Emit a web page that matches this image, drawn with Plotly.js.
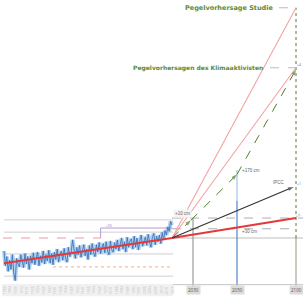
<!DOCTYPE html>
<html><head><meta charset="utf-8">
<script src="https://cdn.plot.ly/plotly-3.0.1.min.js"></script>
<style>html,body{margin:0;padding:0;background:#fff}#chart{width:303px;height:298px}</style>
</head><body><div id="chart"></div>
<script>
// ---------- data (sea level, cm relative to 2020) ----------
const histStart = 1900;
const histLevel = [
 -35,-75,-50,-90,-60,-85,-45,-95,-115,-55,-70,
 -78,-45,-66,-80,-42,-70,-50,-85,-48,-68,
 -40,-72,-55,-38,-75,-48,-66,-35,-70,-45,
 -62,-33,-68,-42,-72,-38,-58,-30,-65,-44,
 -35,-60,-28,-55,-65,-25,-50,-38,-5,-30,
 -55,-25,-45,-20,-52,-35,-18,-48,-30,-58,
 -20,-45,-15,-40,-50,-18,-38,-12,-42,-25,
 -15,-40,-10,-35,-45,-8,-32,-38,-12,-30,
 -5,-35,-12,0,-30,-10,-38,2,-25,-8,
 -2,-30,5,-25,0,-32,-8,8,-22,-5,
 3,-20,10,-12,-25,2,12,-18,5,-10,
 8,-15,15,-5,20,8,30,18,45,35
];
const histYears = histLevel.map((v,i)=>histStart+i);
const trendYears = [1900, 2020, 2100];
const trendLevel = [-68, 0, 54];
const studieYears = [2020, 2100];
const studieLevel = [0, 622];
const aktivYears = [2020, 2100];
const aktivLevel = [0, 460];
const greenYears = [2020, 2029, 2050, 2100];
const greenLevel = [0, 48, 172, 455];
const ipccYears = [2020, 2098];
const ipccLevel = [0, 138];
const histRefLevels = [49, 16, -43, -103];
const axisYears = [2030, 2050, 2100];
const axisLabels = ['2030', '2050', '2100'];
const labelStudie = 'Pegelvorhersage Studie';
const labelAktiv = 'Pegelvorhersagen des Klimaaktivisten';

// ---------- piecewise time axis (historical part compressed) ----------
const keyYears = [1900, 2020, 2030, 2050, 2100];
const keyPos   = [4, 172, 193, 237, 296];
function pos(y){
  for (let i=0;i<keyYears.length-1;i++){
    if (y<=keyYears[i+1] || i===keyYears.length-2){
      const t=(y-keyYears[i])/(keyYears[i+1]-keyYears[i]);
      return keyPos[i]+t*(keyPos[i+1]-keyPos[i]);
    }
  }
}
const P = arr => arr.map(pos);
const yBottom = -130;

const arrowMarks = (n, idx, color) => ({
  symbol: Array.from({length:n},(_,i)=> idx.includes(i)?'arrow':'circle'),
  size: Array.from({length:n},(_,i)=> idx.includes(i)?6:0),
  angleref:'previous', color: color, line:{width:0}
});

const traces = [
  {x:P(histYears), y:histLevel, mode:'lines', line:{color:'rgba(130,178,228,0.6)', width:4}, hoverinfo:'skip'},
  {x:P(histYears), y:histLevel, mode:'lines', line:{color:'#2f6db5', width:0.8}, hoverinfo:'skip'},
  {x:P(trendYears), y:trendLevel, mode:'lines', line:{color:'#e5383b', width:2}},
  {x:P(studieYears), y:studieLevel, mode:'lines', line:{color:'#f4a2a2', width:1.1}},
  {x:P(aktivYears), y:aktivLevel, mode:'lines', line:{color:'#f4a2a2', width:1.1}},
  {x:P(greenYears), y:greenLevel, mode:'lines+markers', line:{color:'#4f7d2f', width:1, dash:'dash'},
   marker: arrowMarks(greenYears.length,[1,2,3],'#4f7d2f')},
  {x:P(ipccYears), y:ipccLevel, mode:'lines+markers', line:{color:'#333', width:1.2},
   marker: arrowMarks(ipccYears.length,[1],'#222')}
];

const shapes = [];
histRefLevels.forEach(l=>shapes.push({type:'line', x0:4, x1:173, y0:l, y1:l, line:{color:'#cfcfcf', width:1}, layer:'below'}));
shapes.push({type:'line', x0:3, x1:pos(1969), y0:0, y1:0, line:{color:'#e58080', width:0.8, dash:'dash'}, layer:'below'});
shapes.push({type:'line', x0:pos(1935), x1:173, y0:-78, y1:-78, line:{color:'#f2b080', width:1, dash:'dot'}, layer:'below'});
shapes.push({type:'line', x0:pos(1969), x1:pos(2020), y0:27, y1:27, line:{color:'#b49ad6', width:1}, layer:'below'});
shapes.push({type:'line', x0:pos(1969), x1:pos(1969), y0:0, y1:27, line:{color:'#b49ad6', width:1}, layer:'below'});
shapes.push({type:'line', x0:pos(2020), x1:303, y0:0, y1:0, line:{color:'#bdbdbd', width:1}, layer:'below'});
shapes.push({type:'line', x0:pos(2020), x1:303, y0:trendLevel[2], y1:trendLevel[2], line:{color:'#999', width:0.8, dash:'dash'}, layer:'below'});
shapes.push({type:'line', x0:pos(2020), x1:pos(2100), y0:25, y1:25, line:{color:'#999', width:0.8, dash:'dash'}, layer:'below'});
shapes.push({type:'line', x0:pos(2030), x1:pos(2030), y0:yBottom, y1:54, line:{color:'#888', width:1}, layer:'below'});
shapes.push({type:'line', x0:pos(2050), x1:pos(2050), y0:yBottom, y1:100, line:{color:'#5b8fd0', width:1.3}, layer:'below'});
shapes.push({type:'line', x0:pos(2050), x1:pos(2050), y0:100, y1:184, line:{color:'#a9caec', width:1.3}, layer:'below'});
shapes.push({type:'line', x0:pos(2100), x1:pos(2100), y0:yBottom, y1:0, line:{color:'#8a9a80', width:1}, layer:'below'});
shapes.push({type:'line', x0:pos(2100), x1:pos(2100), y0:0, y1:studieLevel[1], line:{color:'#4f7d2f', width:1, dash:'dot'}, layer:'below'});
shapes.push({type:'line', x0:279, x1:pos(2100), y0:studieLevel[1], y1:studieLevel[1], line:{color:'#aaa', width:0.8, dash:'dash'}, layer:'below'});
shapes.push({type:'line', x0:270, x1:pos(2100), y0:aktivLevel[1], y1:aktivLevel[1], line:{color:'#aaa', width:0.8, dash:'dash'}, layer:'below'});
shapes.push({type:'line', x0:150, x1:303, y0:-126, y1:-126, line:{color:'#c4c4c4', width:1}, layer:'below'});
shapes.push({type:'rect', x0:2, x1:173, y0:-124, y1:-157, fillcolor:'#f1f1f1', line:{width:0}, layer:'below'});

const annotations = [];
const txt = (x,y,t,opt) => Object.assign({x:x, y:y, xref:'x', yref:'y', text:t, showarrow:false,
  font:{family:'Liberation Sans, Arial', size:4.5, color:'#666'}}, opt||{});
annotations.push(txt(275, studieLevel[1], labelStudie, {xanchor:'right', font:{family:'DejaVu Sans, sans-serif', size:6.5, color:'#5a8a3a', weight:'bold'}}));
annotations.push(txt(265, aktivLevel[1], labelAktiv, {xanchor:'right', font:{family:'DejaVu Sans, sans-serif', size:6, color:'#5a8a3a', weight:'bold'}}));
annotations.push(txt(pos(2050)+3, 182, '+170 cm', {xanchor:'left'}));
annotations.push(txt(pos(2050)+3, 19, '+30 cm', {xanchor:'left'}));
annotations.push(txt(287, 150, 'IPCC', {xanchor:'right'}));
annotations.push(txt(pos(2020)+1, 67, '+10 cm', {xanchor:'left', bgcolor:'#f4f4f4'}));
annotations.push(txt(pos(1969)+2, 33, '+20', {xanchor:'left', font:{size:4, color:'#9a7fc0'}}));
annotations.push(txt(303, aktivLevel[1]+10, '+4', {xanchor:'right', font:{size:3.5, color:'#666'}}));
annotations.push(txt(303, ipccLevel[1]+8, '+1', {xanchor:'right', font:{size:3.5, color:'#666'}}));
annotations.push(txt(303, trendLevel[2]+7, '+½', {xanchor:'right', font:{size:3.5, color:'#666'}}));
axisYears.forEach((yr,i)=>annotations.push(txt(pos(yr), -141, axisLabels[i], {bgcolor:'#dcdcdc', font:{size:4.5, color:'#555'}})));
for (let yr=1900; yr<=2020; yr+=4){
  annotations.push(txt(pos(yr), -141, String(yr), {textangle:-90, font:{size:3.5, color:'#bdbdbd'}}));
}

const layout = {
  width:303, height:298, margin:{l:0,r:0,t:0,b:0},
  paper_bgcolor:'#fff', plot_bgcolor:'#fff', showlegend:false,
  xaxis:{range:[0,303], visible:false, fixedrange:true},
  yaxis:{range:[-162,643], visible:false, fixedrange:true},
  shapes:shapes, annotations:annotations
};
Plotly.newPlot('chart', traces, layout, {staticPlot:true, displayModeBar:false});
</script></body></html>
